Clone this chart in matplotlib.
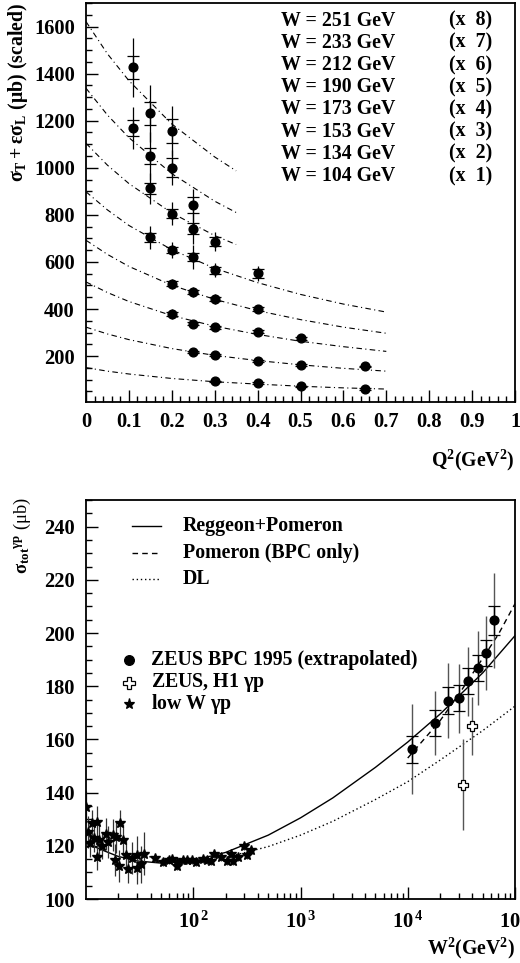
import matplotlib.pyplot as plt
from matplotlib.ticker import FixedLocator, MultipleLocator, LogLocator, NullFormatter

plt.rcParams["font.family"] = ["Liberation Serif", "DejaVu Serif"]
plt.rcParams["font.weight"] = "bold"
plt.rcParams["mathtext.fontset"] = "custom"
plt.rcParams["mathtext.rm"] = "Liberation Serif"
plt.rcParams["mathtext.bf"] = "Liberation Serif:bold"
plt.rcParams["mathtext.it"] = "Liberation Serif:italic"

FS = 14.3
TICK_FS = 14.8

# ─── Top panel: sigma_T + eps*sigma_L vs Q^2, one set per W bin (scaled) ───
w_values = [104, 134, 153, 173, 190, 212, 233, 251]
scale_factors = [1, 2, 3, 4, 5, 6, 7, 8]

q2_points = [
    [0.30, 0.40, 0.50, 0.65],
    [0.25, 0.30, 0.40, 0.50, 0.65],
    [0.20, 0.25, 0.30, 0.40, 0.50],
    [0.20, 0.25, 0.30, 0.40],
    [0.15, 0.20, 0.25, 0.30, 0.40],
    [0.15, 0.20, 0.25, 0.30],
    [0.11, 0.15, 0.20, 0.25],
    [0.11, 0.15, 0.20],
]
sigma_points = [
    [93, 85, 72, 60],
    [217, 204, 181, 163, 156],
    [378, 338, 323, 304, 276],
    [507, 472, 442, 400],
    [704, 650, 621, 564, 551],
    [912, 805, 742, 686],
    [1168, 1050, 1000, 841],
    [1426, 1231, 1156],
]
stat_err = [
    [3, 3, 3, 3],
    [4, 4, 4, 4, 4],
    [8, 6, 6, 6, 6],
    [10, 10, 10, 8],
    [20, 12, 15, 15, 18],
    [25, 20, 25, 18],
    [35, 35, 40, 35],
    [50, 50, 50],
]
total_err = [
    [5, 5, 5, 5],
    [8, 8, 8, 8, 8],
    [20, 12, 12, 12, 10],
    [22, 20, 22, 15],
    [50, 35, 50, 30, 30],
    [65, 50, 65, 40],
    [90, 100, 75, 70],
    [125, 120, 105],
]

# fitted curves
fit_q2_long = [0, 0.05, 0.1, 0.2, 0.3, 0.4, 0.5, 0.6, 0.7]
fit_q2_short = [0, 0.05, 0.1, 0.2, 0.3, 0.35]
fit_sigma = [
    [151, 136, 124, 105, 91, 81, 72, 65, 60],
    [323, 294, 270, 232, 203, 181, 163, 148, 136],
    [515, 470, 432, 372, 327, 292, 263, 240, 220],
    [692, 632, 581, 501, 441, 393, 355, 323, 297],
    [898, 821, 755, 652, 573, 512, 462, 421, 387],
    [1104, 1011, 933, 808, 712, 674],
    [1338, 1224, 1128, 975, 858, 810],
    [1621, 1484, 1370, 1186, 1046, 987],
]

q2_ticks = [0, 0.1, 0.2, 0.3, 0.4, 0.5, 0.6, 0.7, 0.8, 0.9, 1]
q2_tick_labels = ["0", "0.1", "0.2", "0.3", "0.4", "0.5", "0.6", "0.7", "0.8", "0.9", "1"]
sigma_ticks = [200, 400, 600, 800, 1000, 1200, 1400, 1600]

# ─── Bottom panel: total gamma-p cross section vs W^2 ───
bpc_w2 = [1.10e4, 1.81e4, 2.36e4, 3.00e4, 3.61e4, 4.54e4, 5.40e4, 6.37e4]
bpc_sigma = [156.3, 166.1, 174.6, 175.5, 181.9, 186.9, 192.5, 204.7]
bpc_stat = [5, 5, 5, 5, 5, 5, 5, 5.5]
bpc_total = [17, 12, 14, 13, 13, 14, 14, 18]

hera_w2 = [3.24e4, 4.0e4]
hera_sigma = [143, 165]
hera_err = [17, 11]

loww_w2 = [10.1, 10.4, 11.0, 11.4, 11.8, 12.6, 12.7, 13.2, 14.2, 15.2, 16.0, 17.9,
           18.5, 18.9, 20.1, 20.7, 22.2, 23.4, 24.8, 27.0, 29.6, 30.0, 32.3, 34.7,
           44, 52.5, 59, 64, 70, 71, 81, 88, 98, 105, 123, 135, 145, 156, 182,
           205, 223, 236, 261, 297, 319, 343]
loww_sigma = [134.6, 125.2, 120.9, 128.4, 122.8, 115.9, 129.0, 122.1, 119.9, 124.3,
              121.5, 124.0, 114.6, 123.4, 112.4, 128.4, 122.1, 116.5, 111.2, 115.3,
              111.5, 116.5, 113.1, 117.1,
              115.5, 114.0, 114.6, 114.9, 112.4, 114.0, 114.6, 114.6, 114.6, 113.8,
              114.9, 114.6, 114.4, 116.8, 115.9, 114.1, 116.9, 114.4, 115.9, 120.0,
              116.5, 118.6]
loww_err = [6, 6, 5, 5, 5, 5, 6, 6, 5, 6, 6, 6, 6, 6, 6, 5, 6, 6, 5, 6, 6, 7, 7, 8,
            1.5, 1.5, 1.5, 1.5, 1.5, 1.5, 1.5, 1.5, 1.5, 1.5, 1.5, 1.5, 1.5, 1.5,
            1.5, 1.5, 1.5, 1.5, 1.5, 1.5, 1.5, 1.5]

regge_w2 = [10, 15, 20, 30, 50, 100, 200, 500, 1e3, 2e3, 5e3, 1e4, 2e4, 5e4, 1e5]
regge_sigma = [121, 118, 116, 114.3, 113.5, 114.5, 117.5, 124, 130.5, 138, 149.5,
               159, 169.5, 185, 199]
pomeron_w2 = [1e4, 2e4, 3e4, 5e4, 7e4, 1e5]
pomeron_sigma = [153, 167, 177, 190.5, 199.5, 211]
dl_w2 = [30, 50, 100, 200, 500, 1e3, 2e3, 5e3, 1e4, 2e4, 5e4, 1e5]
dl_sigma = [117, 114.9, 114.3, 115.6, 119.7, 124.0, 129.2, 137.4, 144.1, 152.2,
            163.3, 172.5]

w2_ticks = [1e2, 1e3, 1e4, 1e5]
w2_tick_labels = [r"$\mathbf{10^{\,2}}$", r"$\mathbf{10^{\,3}}$",
                  r"$\mathbf{10^{\,4}}$", r"$\mathbf{10^{\,5}}$"]

legend_lines = ["Reggeon+Pomeron", "Pomeron (BPC only)", "DL"]
legend_points = ["ZEUS BPC 1995 (extrapolated)", r"ZEUS, H1 $\mathbf{γp}$",
                 r"low W $\mathbf{γp}$"]


def style_axis(ax):
    for sp in ax.spines.values():
        sp.set_linewidth(1.3)
    ax.tick_params(which="both", direction="in", top=False, right=False,
                   labelsize=TICK_FS, width=1.0)
    ax.tick_params(which="major", length=8.5, pad=8)
    ax.tick_params(which="minor", length=4.3)


fig = plt.figure(figsize=(5.20, 9.63), dpi=100)

# ─── Top panel ───
ax1 = fig.add_axes([86 / 520, 1 - 402 / 963, 429 / 520, 399 / 963])
dashdot = (0, (5, 3, 1, 3))
for i in range(len(w_values)):
    q_fit = fit_q2_long if len(fit_sigma[i]) == len(fit_q2_long) else fit_q2_short
    ax1.plot(q_fit, fit_sigma[i], color="black", lw=0.8, ls=dashdot)
    ax1.errorbar(q2_points[i], sigma_points[i], yerr=total_err[i], fmt="none",
                 ecolor="black", elinewidth=0.9, capsize=0)
    ax1.errorbar(q2_points[i], sigma_points[i], yerr=stat_err[i], fmt="o",
                 color="black", ms=6.3, elinewidth=0.9, capsize=4, capthick=0.9)

ax1.set_xlim(0, 1)
ax1.set_ylim(5, 1700)
ax1.xaxis.set_major_locator(FixedLocator(q2_ticks))
ax1.set_xticklabels(q2_tick_labels)
ax1.xaxis.set_minor_locator(MultipleLocator(0.02))
ax1.yaxis.set_major_locator(FixedLocator(sigma_ticks))
ax1.yaxis.set_minor_locator(MultipleLocator(50))
style_axis(ax1)
ax1.tick_params(axis="x", which="major", pad=7)

row_top = 0.956
row_step = 0.0557
for k, (w, sc) in enumerate(zip(w_values[::-1], scale_factors[::-1])):
    y = row_top - k * row_step
    ax1.text(0.454, y, f"W = {w} GeV", transform=ax1.transAxes, fontsize=FS,
             va="center", ha="left")
    ax1.text(0.847, y, f"(x  {sc})", transform=ax1.transAxes, fontsize=FS,
             va="center", ha="left")

fig.text(18 / 520, 1 - 3 / 963, r"$\mathbf{σ_T+εσ_L}$ (μb) (scaled)",
         rotation=90, ha="center", va="top", fontsize=FS)
fig.text(515 / 520, 1 - 460 / 963, r"$\mathbf{Q^2(GeV^2)}$",
         ha="right", va="center", fontsize=FS)

# ─── Bottom panel ───
ax2 = fig.add_axes([86 / 520, 1 - 899 / 963, 429 / 520, 399 / 963])
ax2.set_xscale("log")
ax2.plot(regge_w2, regge_sigma, color="black", lw=1.0, ls="-")
ax2.plot(pomeron_w2, pomeron_sigma, color="black", lw=1.0, ls=(0, (4, 3)))
ax2.plot(dl_w2, dl_sigma, color="black", lw=1.0, ls=(0, (1, 2)))

ax2.errorbar(loww_w2, loww_sigma, yerr=loww_err, fmt="*", color="black", ms=7,
             ecolor="#333333", elinewidth=0.9, capsize=0)
ax2.errorbar(bpc_w2, bpc_sigma, yerr=bpc_total, fmt="none", ecolor="#555555",
             elinewidth=1.0, capsize=0)
ax2.errorbar(bpc_w2, bpc_sigma, yerr=bpc_stat, fmt="o", color="black", ms=6.3,
             elinewidth=1.0, capsize=4, capthick=0.9)
ax2.errorbar(hera_w2, hera_sigma, yerr=hera_err, fmt="P", mfc="white", mec="black",
             mew=0.9, ms=7.5, ecolor="#555555", elinewidth=1.0, capsize=0)

ax2.set_xlim(10, 1e5)
ax2.set_ylim(100, 250)
ax2.xaxis.set_major_locator(FixedLocator(w2_ticks))
ax2.set_xticklabels(w2_tick_labels)
ax2.xaxis.set_minor_locator(LogLocator(base=10, subs=range(2, 10), numticks=20))
ax2.xaxis.set_minor_formatter(NullFormatter())
ax2.yaxis.set_major_locator(MultipleLocator(20))
ax2.yaxis.set_minor_locator(MultipleLocator(5))
style_axis(ax2)
ax2.tick_params(axis="x", which="major", pad=9)

line_styles = ["-", (0, (4, 3)), (0, (1, 2))]
line_rows = [0.935, 0.868, 0.801]
for lab, ls, y in zip(legend_lines, line_styles, line_rows):
    ax2.plot([0.1065, 0.175], [y, y], transform=ax2.transAxes, color="black",
             lw=1.0, ls=ls)
    ax2.text(0.226, y, lab, transform=ax2.transAxes, fontsize=FS, va="center")

marker_specs = [("o", "black", 7), ("P", "white", 8), ("*", "black", 8)]
marker_rows = [0.599, 0.542, 0.489]
for lab, (m, fc, ms), y in zip(legend_points, marker_specs, marker_rows):
    ax2.plot([0.101], [y], marker=m, mfc=fc, mec="black", mew=0.9, ms=ms,
             transform=ax2.transAxes, ls="none")
    ax2.text(0.151, y, lab, transform=ax2.transAxes, fontsize=FS, va="center")

fig.text(22 / 520, 1 - 497 / 963, r"$\mathrm{σ_{tot}}{}^{\mathrm{γp}}$ (μb)",
         rotation=90, ha="center", va="top", fontsize=FS - 1, fontweight="normal")
fig.text(515 / 520, 1 - 948 / 963, r"$\mathbf{W^2(GeV^2)}$",
         ha="right", va="center", fontsize=FS)

fig.savefig("out.png", dpi=100)
